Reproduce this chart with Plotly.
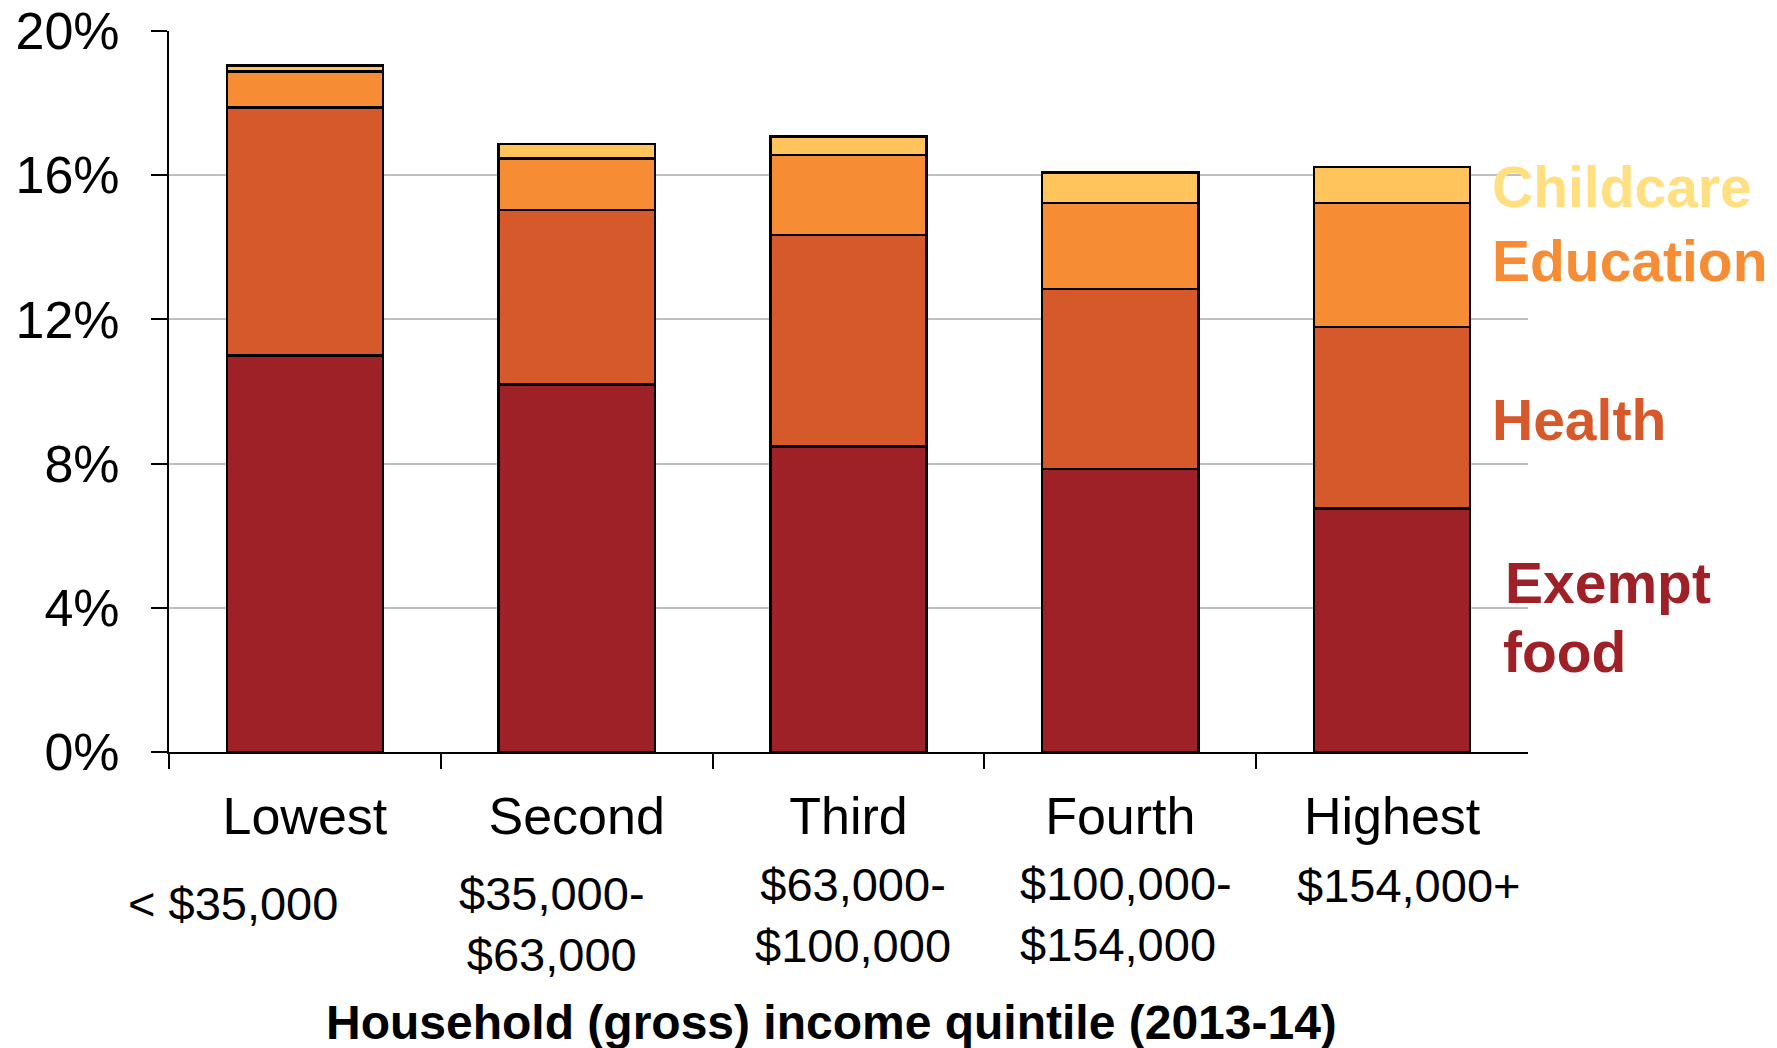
import plotly.graph_objects as go

# Spending shares by household income quintile (per cent of income)
quintiles = ["Lowest", "Second", "Third", "Fourth", "Highest"]
income_ranges = ["< $35,000", "$35,000-<br>$63,000", "$63,000-<br>$100,000",
                 "$100,000-<br>$154,000", "$154,000+"]
exempt_food = [11.0, 10.2, 8.47, 7.85, 6.75]
health = [6.88, 4.83, 5.87, 4.99, 5.04]
education = [1.0, 1.43, 2.22, 2.39, 3.44]
childcare = [0.16, 0.41, 0.51, 0.84, 1.0]

series_names = ["Exempt food", "Health", "Education", "Childcare"]
series_values = [exempt_food, health, education, childcare]

y_ticks = [0, 4, 8, 12, 16, 20]
y_tick_labels = ["0%", "4%", "8%", "12%", "16%", "20%"]
x_title = "Household (gross) income quintile (2013-14)"

FONT = "Liberation Sans, Arial, sans-serif"
bar_colors = ["#9E2127", "#D5592A", "#F68C33", "#FFC45B"]
label_colors = ["#9E2127", "#D5592A", "#F68C33", "#FFDF7F"]

fig = go.Figure()
for name, vals, col in zip(series_names, series_values, bar_colors):
    fig.add_trace(go.Bar(
        x=quintiles, y=vals, name=name,
        marker=dict(color=col, line=dict(color="black", width=2.5)),
        hoverinfo="skip",
    ))

# invisible helper trace so the boundary-tick axis is drawn
fig.add_trace(go.Scatter(x=[], y=[], xaxis="x2", showlegend=False, hoverinfo="skip"))

fig.update_layout(
    width=1777, height=1048,
    margin=dict(l=169, r=249, t=31, b=296),
    barmode="stack", bargap=0.425,
    showlegend=False,
    plot_bgcolor="white", paper_bgcolor="white",
    font=dict(family=FONT, color="black"),
    xaxis=dict(
        type="category", range=[-0.5, 4.5], automargin=False,
        showline=True, linecolor="black", linewidth=2,
        ticks="", showgrid=False,
        tickfont=dict(size=52, family=FONT),
        ticklabelstandoff=18,
    ),
    xaxis2=dict(
        overlaying="x", anchor="y", side="bottom", automargin=False,
        range=[-0.5, 4.5], tickmode="array",
        tickvals=[-0.5, 0.5, 1.5, 2.5, 3.5],
        ticks="outside", ticklen=16, tickwidth=2, tickcolor="black",
        showticklabels=False, showgrid=False, showline=False, zeroline=False,
    ),
    yaxis=dict(
        range=[0, 20], tickmode="array", automargin=False,
        tickvals=y_ticks, ticktext=y_tick_labels,
        showline=True, linecolor="black", linewidth=2,
        ticks="outside", ticklen=16, tickwidth=2, tickcolor="black",
        showgrid=True, gridcolor="#BFBFBF", gridwidth=2,
        zeroline=False,
        tickfont=dict(size=52, family=FONT),
        ticklabelstandoff=21,
    ),
)

# income range labels under each quintile name
range_shift = [(-72, "center"), (-25, "center"), (4, "center"), (-102, "left"), (16, "center")]
range_y = [-151, -172, -163, -162, -133]
for q, txt, (dx, anchor), dy in zip(quintiles, income_ranges, range_shift, range_y):
    fig.add_annotation(
        x=q, xref="x", y=0, yref="paper",
        text=txt, showarrow=False,
        xanchor=anchor, yanchor="middle", align=anchor,
        xshift=dx, yshift=dy,
        font=dict(size=47, family=FONT, color="black"),
    )

# axis title
fig.add_annotation(
    x=(831 - 169) / 1359, xref="paper", y=0, yref="paper",
    text="<b>" + x_title + "</b>", showarrow=False,
    xanchor="center", yanchor="middle", yshift=-270,
    font=dict(size=48, family=FONT, color="black"),
)

# series labels at the right of the stacks
series_labels = [("Exempt", 4.68, 1503, 0), ("food", 2.78, 1501, 0),
                 ("Health", 9.22, 1490, 1), ("Education", 13.63, 1490, 2),
                 ("Childcare", 15.68, 1490, 3)]
for txt, yv, xpx, idx in series_labels:
    fig.add_annotation(
        x=(xpx - 169) / 1359, xref="paper", y=yv, yref="y",
        text="<b>" + txt + "</b>", showarrow=False,
        xanchor="left", yanchor="middle",
        font=dict(size=57, family=FONT, color=label_colors[idx]),
    )

fig.write_html("out.html")
